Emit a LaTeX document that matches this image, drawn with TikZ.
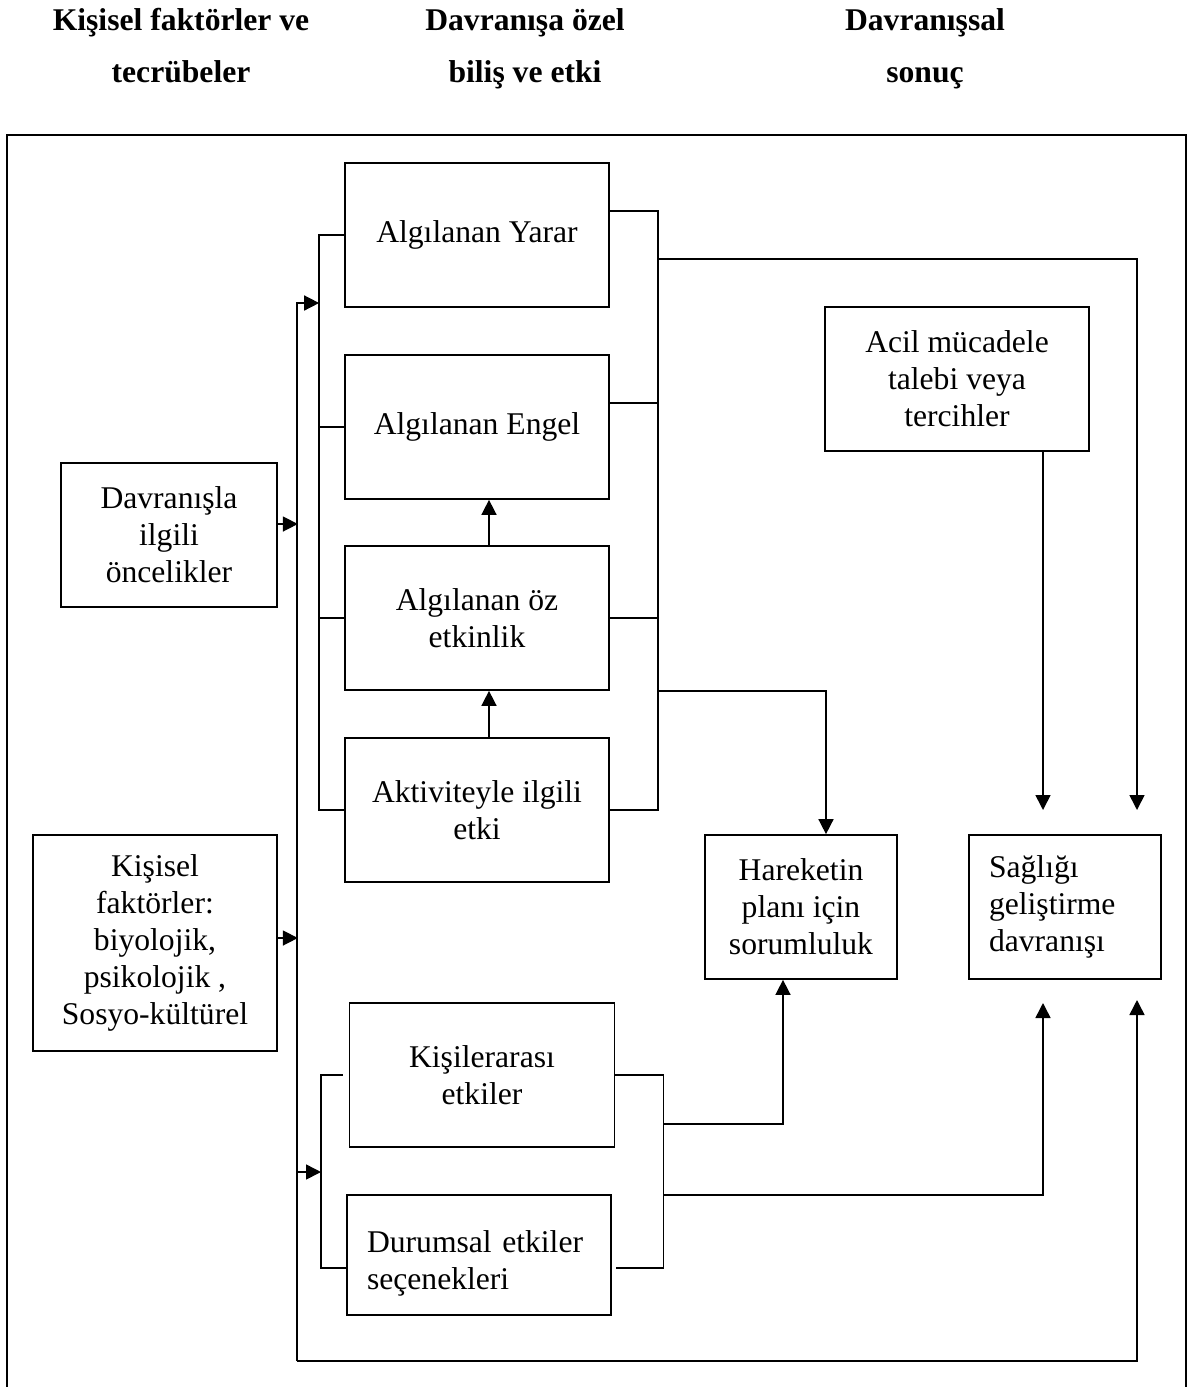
\documentclass[tikz,border=0pt]{standalone}
\usepackage{fontspec}
\setmainfont{Liberation Serif}
\usetikzlibrary{arrows.meta,calc}

\begin{document}
\begin{tikzpicture}[x=0.02cm, y=-0.02cm,
  font=\fontsize{18}{21}\selectfont,
  box/.style={draw, line width=1pt, minimum width=#1, minimum height=2.88cm,
              align=center, inner sep=2pt},
  box/.default=5.28cm,
  lbox/.style={box=#1, align=left, inner sep=0.4cm, text width=#1-0.8cm},
  hd/.style={font=\bfseries\fontsize{18}{30}\selectfont, align=center,
             text depth=0.1cm},
  arr/.style={-{Triangle[length=0.3cm,width=0.3cm]}, line width=0.9pt},
  ln/.style={line width=0.9pt}
]
  \useasboundingbox (0,0) rectangle (1188,1387);
  % Basliklar
  \node[hd] (h1) at (181,48) {Kişisel faktörler ve\\tecrübeler};
  \node[hd] (h2) at (525,48) {Davranışa özel\\biliş ve etki};
  \node[hd] (h3) at (925,48) {Davranışsal\\sonuç};
  \draw[line width=1pt] (7,1390) -- (7,135) -- (1186,135) -- (1186,1390);

  \node[box]  (yarar)    at (477,235)   {Algılanan Yarar};
  \node[box]  (engel)    at (477,427)   {Algılanan Engel};
  \node[box]  (ozetk)    at (477,618)   {Algılanan öz\\etkinlik};
  \node[box]  (aktivite) at (477,810)   {Aktiviteyle ilgili\\etki};
  \node[box=4.32cm] (oncel)   at (169,535) {Davranışla\\ilgili\\öncelikler};
  \node[box=4.88cm, minimum height=4.32cm] (kisisel) at (155,943)
        {Kişisel\\faktörler:\\biyolojik,\\psikolojik ,\\Sosyo-kültürel};
  \node[box=5.3cm] (kisiler)  at (482,1075) {Kişilerarası\\etkiler};
  \node[lbox=5.28cm, minimum height=2.4cm, text depth=0.53cm] (durum) at (479,1255)
        {Durumsal etkiler\\seçenekleri};
  \node[box]  (acil)     at (957,379)   {Acil mücadele\\talebi veya\\tercihler};
  \node[box=3.84cm] (plan) at (801,907) {Hareketin\\planı için\\sorumluluk};
  \node[lbox=3.84cm] (saglik) at (1065,907) {Sağlığı\\geliştirme\\davranışı};

  \coordinate (b1) at (297,303);
  \coordinate (b2) at (297,1361);
  \coordinate (b3) at (297,1172);
  \coordinate (rb1) at (657,259);
  \coordinate (rb2) at (657,691);
  \coordinate (rb3) at (663,1124);
  \coordinate (rb4) at (663,1195);
  \coordinate (sA) at (1043,810);
  \coordinate (sB) at (1137,810);
  \coordinate (sC) at (1043,1003);
  \coordinate (sD) at (1137,1000);

  % sol taraf
  \draw[ln] (yarar.west) -- ++(-25,0) coordinate (lb) |- (aktivite.west);
  \draw[ln] (engel.west) -- ++(-25,0);
  \draw[ln] (ozetk.west) -- ++(-25,0);
  \draw[arr] (b2) -- (b1) -- (b1 -| lb);
  \draw[arr] ($(oncel.east)+(0,-11)$) -- ++(20,0);
  \draw[arr] ($(kisisel.east)+(0,-5)$) -- ++(20,0);
  \draw[arr] (b3) -- ++(24,0) coordinate (lb2);
  \draw[ln] ($(kisiler.west)+(-6,0)$) -- (kisiler.west -| lb2) |- ($(durum.west)+(0,13)$);
  \draw[arr] (aktivite.north -| 489,0) -- (ozetk.south -| 489,0);
  \draw[arr] (ozetk.north -| 489,0) -- (engel.south -| 489,0);

  % sag taraf
  \draw[ln] ($(yarar.east)+(0,-24)$) -- ++(48,0) |- (aktivite.east);
  \draw[ln] ($(engel.east)+(0,-24)$) -- ++(48,0);
  \draw[ln] (ozetk.east) -- ++(48,0);
  \draw[arr] (rb1) -| (sB);
  \draw[arr] (rb2) -| ($(plan.north)+(25,0)$);
  \draw[arr] (acil.south -| sA) -- (sA);
  \draw[ln] (kisiler.east) -- ++(48,0) |- ($(durum.east)+(4,13)$);
  \draw[arr] (rb3) -| ($(plan.south)+(-18,0)$);
  \draw[arr] (rb4) -| (sC);
  \draw[arr] (b2) -| (sD);
\end{tikzpicture}
\end{document}
